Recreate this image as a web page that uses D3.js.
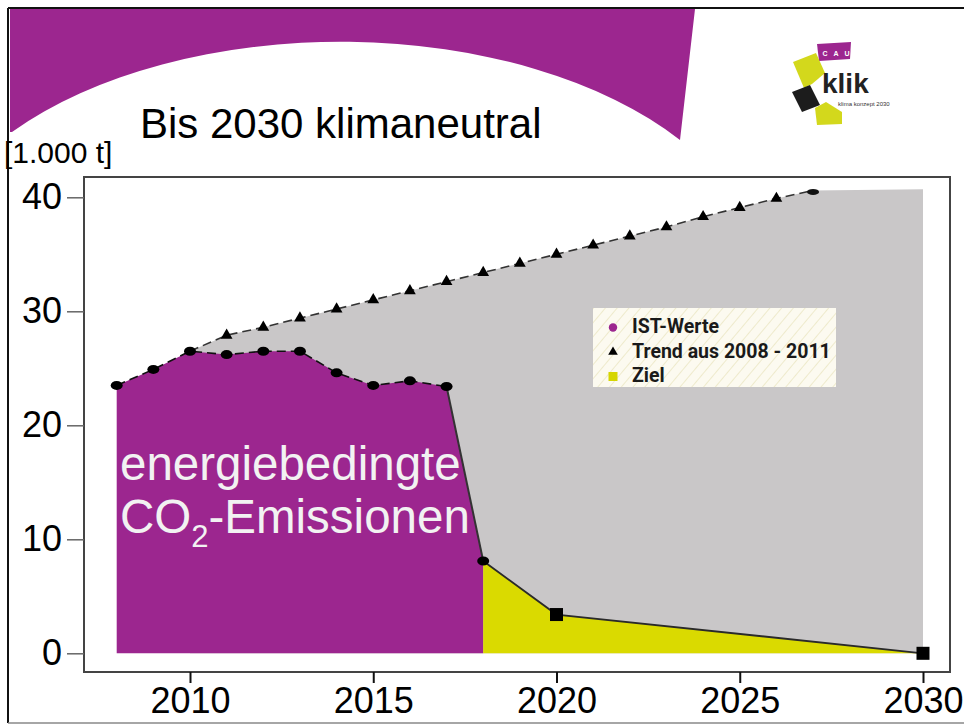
<!DOCTYPE html>
<html>
<head>
<meta charset="utf-8">
<script src="https://cdn.jsdelivr.net/npm/d3@7"></script>
<style>
  html, body { margin: 0; padding: 0; background: #fff; }
  svg { display: block; font-family: "Liberation Sans", Arial, sans-serif; }
</style>
</head>
<body>
<svg id="chart" width="964" height="725"></svg>
<script>
// values (1.000 t CO2)
const istYears = [2008, 2009, 2010, 2011, 2012, 2013, 2014, 2015, 2016, 2017, 2018];
const istValues = [23.5, 24.9, 26.5, 26.2, 26.5, 26.5, 24.6, 23.5, 23.9, 23.4, 8.1];
const trendYears = [2011, 2012, 2013, 2014, 2015, 2016, 2017, 2018, 2019, 2020, 2021, 2022, 2023, 2024, 2025, 2026];
const trendValues = [27.9, 28.6, 29.4, 30.2, 31.0, 31.8, 32.6, 33.4, 34.2, 35.0, 35.8, 36.6, 37.4, 38.3, 39.1, 39.9];
const trendEndYear = 2027;
const trendEndValue = 40.6;
const grayTopValue = 40.7;
const zielYears = [2018, 2020, 2030];
const zielValues = [8.1, 3.4, 0];
const xTicks = [2010, 2015, 2020, 2025, 2030];
const yTicks = [0, 10, 20, 30, 40];
const legendLabels = ["IST-Werte", "Trend aus 2008 - 2011", "Ziel"];

const purple = "#9c268f", gray = "#c9c7c8", yellow = "#dada00";

const svg = d3.select("#chart");
const x = d3.scaleLinear().domain([2010, 2030]).range([190, 923]);
const y = d3.scaleLinear().domain([0, 40]).range([653.3, 197.3]);

// header banner
svg.append("path")
  .attr("d", "M10,9 L695,9 L680,140 A420,239 0 0,0 12,132 L10,132 Z")
  .attr("fill", purple);

// outer frame lines
svg.append("line").attr("x1", 8).attr("x2", 964).attr("y1", 8).attr("y2", 8)
  .attr("stroke", "#111").attr("stroke-width", 2);
svg.append("line").attr("x1", 8).attr("x2", 8).attr("y1", 8).attr("y2", 723)
  .attr("stroke", "#111").attr("stroke-width", 2);
svg.append("line").attr("x1", 8).attr("x2", 964).attr("y1", 723).attr("y2", 723)
  .attr("stroke", "#888").attr("stroke-width", 1.5);

// logo
const logo = svg.append("g");
logo.append("polygon").attr("points", "817,44 851,42 850,59 819,61").attr("fill", purple);
["C", "A", "U"].forEach((c, i) => {
  logo.append("text").attr("x", 825 + i * 11).attr("y", 56).attr("text-anchor", "middle")
    .attr("font-size", 7).attr("font-weight", "bold").attr("fill", "#fff").text(c);
});
logo.append("polygon").attr("points", "793,62 816,53 825,73 812,84 804,88").attr("fill", "#d3d81c");
logo.append("polygon").attr("points", "792,92 810,85 820,105 802,112").attr("fill", "#1c1c1c");
logo.append("polygon").attr("points", "815,108 826,102 842,112 842,124 817,125").attr("fill", "#d3d81c");
logo.append("text").attr("x", 822).attr("y", 93).attr("font-size", 28).attr("font-weight", "bold")
  .attr("fill", "#222").text("klik");
logo.append("text").attr("x", 838).attr("y", 106).attr("font-size", 6).attr("fill", "#333")
  .text("klima konzept 2030");

// title + unit
svg.append("text").attr("x", 140).attr("y", 138).attr("font-size", 42).attr("fill", "#000")
  .text("Bis 2030 klimaneutral");
svg.append("text").attr("x", 4).attr("y", 163).attr("font-size", 30).attr("fill", "#000")
  .text("[1.000 t]");

// plot frame
svg.append("rect").attr("x", 84).attr("y", 177).attr("width", 866).attr("height", 495)
  .attr("fill", "none").attr("stroke", "#444").attr("stroke-width", 2);

// areas
const ist = istYears.map((d, i) => ({ year: d, value: istValues[i] }));
const trend = trendYears.map((d, i) => ({ year: d, value: trendValues[i] }));
const ziel = zielYears.map((d, i) => ({ year: d, value: zielValues[i] }));
const trendEnd = { year: trendEndYear, value: trendEndValue };
const grayTop = [ist[2]].concat(trend, [trendEnd, { year: 2030, value: grayTopValue }]);

const area = d3.area().x(d => x(d.year)).y0(y(0)).y1(d => y(d.value));
const line = d3.line().x(d => x(d.year)).y(d => y(d.value));

svg.append("path").datum(grayTop).attr("d", area).attr("fill", gray);
svg.append("path").datum(ist).attr("d", area).attr("fill", purple);
svg.append("path").datum(ziel).attr("d", area).attr("fill", yellow);

// lines
svg.append("path").datum(ist.slice(0, 10)).attr("d", line).attr("fill", "none")
  .attr("stroke", "#111").attr("stroke-width", 1.6).attr("stroke-dasharray", "9,5");
svg.append("path").datum(ist.slice(9)).attr("d", line).attr("fill", "none")
  .attr("stroke", "#333").attr("stroke-width", 2);
svg.append("path").datum(ziel).attr("d", line).attr("fill", "none")
  .attr("stroke", "#2a2a2a").attr("stroke-width", 1.8);
svg.append("path").datum([ist[2]].concat(trend, [trendEnd]))
  .attr("d", line).attr("fill", "none")
  .attr("stroke", "#333").attr("stroke-width", 1.6).attr("stroke-dasharray", "9,5");

// markers
svg.append("g").selectAll("ellipse").data(ist).join("ellipse")
  .attr("cx", d => x(d.year)).attr("cy", d => y(d.value))
  .attr("rx", 6).attr("ry", 4.5).attr("fill", "#000");
svg.append("g").selectAll("path").data(trend).join("path")
  .attr("transform", d => `translate(${x(d.year)},${y(d.value)})`)
  .attr("d", d3.symbol(d3.symbolTriangle, 60)).attr("fill", "#000");
svg.append("ellipse").attr("cx", x(trendEndYear)).attr("cy", y(trendEndValue) + 1.5)
  .attr("rx", 6).attr("ry", 3).attr("fill", "#111");
svg.append("g").selectAll("rect").data(ziel.slice(1)).join("rect")
  .attr("x", d => x(d.year) - 6.5).attr("y", d => y(d.value) - 6.5)
  .attr("width", 13).attr("height", 13).attr("fill", "#000");

// axes
const yAxis = svg.append("g").attr("transform", "translate(84,0)")
  .call(d3.axisLeft(y).tickValues(yTicks).tickSize(17).tickPadding(5));
yAxis.select(".domain").remove();
yAxis.selectAll("line").attr("stroke", "#666").attr("stroke-width", 1.5);
yAxis.selectAll("text").attr("font-size", 36).attr("font-family", "Liberation Sans, Arial, sans-serif").attr("fill", "#000");

const xAxis = svg.append("g").attr("transform", "translate(0,672)")
  .call(d3.axisBottom(x).tickValues(xTicks).tickFormat(d3.format("d")).tickSize(11).tickPadding(4));
xAxis.select(".domain").remove();
xAxis.selectAll("line").attr("stroke", "#111").attr("stroke-width", 2);
xAxis.selectAll("text").attr("font-size", 36).attr("font-family", "Liberation Sans, Arial, sans-serif").attr("fill", "#000");

// legend
const defs = svg.append("defs");
const pat = defs.append("pattern").attr("id", "hatch").attr("patternUnits", "userSpaceOnUse")
  .attr("width", 9).attr("height", 9).attr("patternTransform", "rotate(40)");
pat.append("rect").attr("width", 9).attr("height", 9).attr("fill", "#fcfaf0");
pat.append("line").attr("x1", 0).attr("x2", 0).attr("y1", 0).attr("y2", 9)
  .attr("stroke", "#e9e4bd").attr("stroke-width", 1.4);

const legend = svg.append("g").attr("transform", "translate(593,308)");
legend.append("rect").attr("width", 243).attr("height", 79).attr("fill", "url(#hatch)");
const rows = legend.selectAll("g").data(legendLabels).join("g")
  .attr("transform", (d, i) => `translate(0,${25 + i * 24.5})`);
rows.append("text").attr("x", 39).attr("font-family", "Roboto, sans-serif")
  .attr("font-weight", "bold").attr("font-size", 19.5).attr("fill", "#1a1a1a").text(d => d);
legend.append("circle").attr("cx", 20).attr("cy", 19.5).attr("r", 4.2).attr("fill", purple);
legend.append("path").attr("transform", "translate(20,44)")
  .attr("d", d3.symbol(d3.symbolTriangle, 40)).attr("fill", "#000");
legend.append("rect").attr("x", 15.5).attr("y", 64).attr("width", 9).attr("height", 9).attr("fill", "#d6d600");

// area label
const lbl = svg.append("g").attr("fill", "#f2f2f2").attr("font-size", 47.5);
lbl.append("text").attr("x", 120).attr("y", 480).text("energiebedingte");
const l2 = lbl.append("text").attr("x", 120).attr("y", 533);
l2.append("tspan").text("CO");
l2.append("tspan").attr("font-size", 31).attr("dy", 14).text("2");
l2.append("tspan").attr("dy", -14).text("-Emissionen");
</script>
</body>
</html>
